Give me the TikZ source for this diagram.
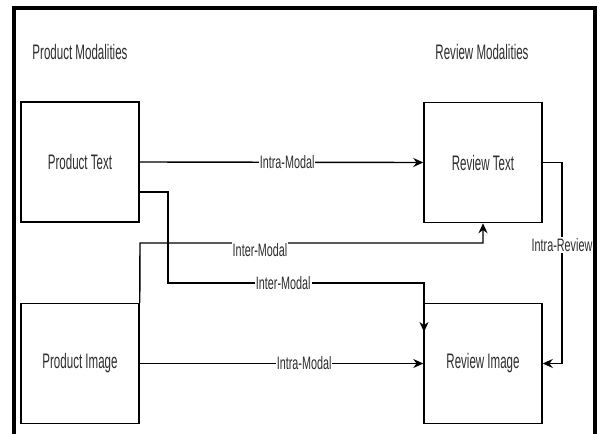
\documentclass[tikz,border=0pt]{standalone}
\usepackage{fontspec}
\setmainfont{Liberation Sans}[FakeStretch=0.55]
\newfontfamily\lblfont{Liberation Sans}[FakeStretch=0.6]
\usetikzlibrary{arrows.meta}
\definecolor{txt}{RGB}{45,45,45}
\tikzset{
  box/.style={draw=black, line width=1.5pt, minimum width=118pt, minimum height=120pt, inner sep=0pt, text=txt, font=\fontsize{21}{24}\selectfont},
  ttl/.style={text=txt, font=\fontsize{21}{24}\selectfont, inner sep=0pt},
  lbl/.style={fill=white, text=txt, font=\lblfont\fontsize{18}{20}\selectfont, inner sep=1pt},
  conn/.style={draw=black, line width=1.4pt},
  arr/.style={conn, -{Stealth[length=10pt,width=9pt]}},
  frame/.style={draw=black, line width=3.5pt}
}
\begin{document}
\begin{tikzpicture}[x=1pt,y=-1pt]
\useasboundingbox (0,0) rectangle (601,433);
\draw[frame] (14,440) -- (14,8) -- (595,8) -- (595,440);
\node[ttl] (tp) at (80,52) {Product Modalities};
\node[ttl] (tr) at (482,52) {Review Modalities};
\node[box] (pt) at (80,162) {Product Text};
\node[box] (rt) at (483,162.5) {Review Text};
\node[box] (pi) at (80,363.5) {Product Image};
\node[box] (ri) at (483,363.5) {Review Image};
\coordinate (a1) at (168,283);
\coordinate (a2) at (424,283);
\coordinate (b1) at (140,243);
\coordinate (b2) at (483,243);
\coordinate (c1) at (562,162.5);
\coordinate (c2) at (562,363.5);
\coordinate (d0) at (140,192);
\coordinate (d1) at (168,192);
\coordinate (a3) at (424,332);
% intra-modal
\draw[arr] (pt.east) -- node[lbl, pos=0.52]{Intra-Modal} (rt.west);
\draw[arr] (pi.east) -- node[lbl, pos=0.58]{Intra-Modal} (ri.west);
% inter-modal upper
\draw[arr] (pi.north east) -- (b1) -- node[lbl, pos=0.35, yshift=-7pt]{Inter-Modal} (b2) -- (rt.south);
% inter-modal lower
\draw[arr] (d0) -- (d1) -- (a1) -- node[lbl, pos=0.45]{Inter-Modal} (a2) -- (a3);
% intra-review
\draw[arr] (rt.east) -- (c1) -- node[lbl, pos=0.41]{Intra-Review} (c2) -- (ri.east);
\end{tikzpicture}
\end{document}
